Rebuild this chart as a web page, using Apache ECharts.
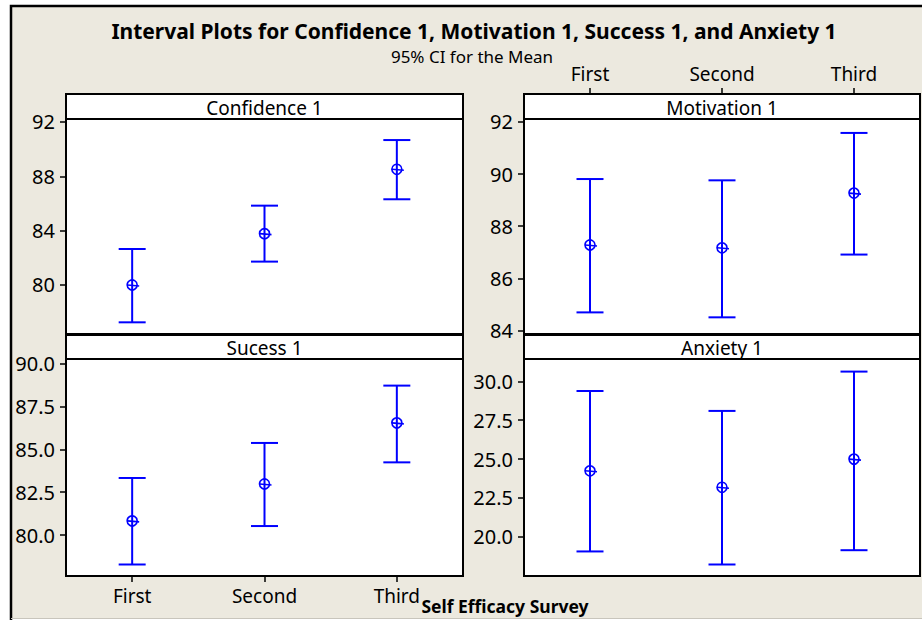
<!DOCTYPE html>
<html>
<head>
<meta charset="utf-8">
<script src="https://cdn.jsdelivr.net/npm/echarts@6/dist/echarts.min.js"></script>
<style>
html,body{margin:0;padding:0;background:#fff;}
#chart{width:922px;height:620px;}
</style>
</head>
<body>
<div id="chart"></div>
<script>
// ---- data ----
const categories = ['First', 'Second', 'Third'];

const panelTitles = ['Confidence 1', 'Motivation 1', 'Sucess 1', 'Anxiety 1'];

const confidenceMean  = [80.00, 83.78, 88.52];
const confidenceLower = [77.25, 81.72, 86.31];
const confidenceUpper = [82.65, 85.84, 90.67];

const motivationMean  = [87.28, 87.17, 89.27];
const motivationLower = [84.69, 84.50, 86.91];
const motivationUpper = [89.81, 89.76, 91.58];

const successMean  = [80.83, 82.98, 86.54];
const successLower = [78.29, 80.53, 84.24];
const successUpper = [83.33, 85.37, 88.71];

const anxietyMean  = [24.25, 23.19, 25.00];
const anxietyLower = [19.06, 18.22, 19.14];
const anxietyUpper = [29.38, 28.10, 30.63];

const confidenceTicks = [80, 84, 88, 92];
const motivationTicks = [84, 86, 88, 90, 92];
const successTicks = [80.0, 82.5, 85.0, 87.5, 90.0];
const anxietyTicks = [20.0, 22.5, 25.0, 27.5, 30.0];

const mainTitle = 'Interval Plots for Confidence 1, Motivation 1, Success 1, and Anxiety 1';
const subTitle = '95% CI for the Mean';
const xAxisTitle = 'Self Efficacy Survey';

// ---- layout ----
const FONT = 'Noto Sans';
const BLUE = '#0000FF';
const panels = [
  {left: 66,  top: 119, width: 397, height: 215, stripTop: 94,  mean: confidenceMean, lower: confidenceLower, upper: confidenceUpper, ticks: confidenceTicks, dec: 0, min: 76.39, max: 92.22},
  {left: 524, top: 119, width: 396, height: 215, stripTop: 94,  mean: motivationMean, lower: motivationLower, upper: motivationUpper, ticks: motivationTicks, dec: 0, min: 83.86, max: 92.115},
  {left: 66,  top: 359, width: 397, height: 217, stripTop: 335, mean: successMean, lower: successLower, upper: successUpper, ticks: successTicks, dec: 1, min: 77.62, max: 90.26},
  {left: 524, top: 359, width: 396, height: 217, stripTop: 335, mean: anxietyMean, lower: anxietyLower, upper: anxietyUpper, ticks: anxietyTicks, dec: 1, min: 17.48, max: 31.44}
];

function renderItem(params, api) {
  const x = api.value(0);
  const lo = api.coord([x, api.value(1)]);
  const mid = api.coord([x, api.value(2)]);
  const hi = api.coord([x, api.value(3)]);
  const cx = lo[0];
  const cap = 13.5, r = 5;
  const st = {stroke: BLUE, lineWidth: 2, fill: null};
  const st2 = {stroke: BLUE, lineWidth: 1.6, fill: null};
  return {
    type: 'group',
    children: [
      {type: 'line', shape: {x1: cx, y1: hi[1], x2: cx, y2: lo[1]}, style: st},
      {type: 'line', shape: {x1: cx - cap, y1: hi[1], x2: cx + cap, y2: hi[1]}, style: st},
      {type: 'line', shape: {x1: cx - cap, y1: lo[1], x2: cx + cap, y2: lo[1]}, style: st},
      {type: 'circle', shape: {cx: cx, cy: mid[1], r: r}, style: st2},
      {type: 'line', shape: {x1: cx - r, y1: mid[1], x2: cx + r + 2, y2: mid[1] + 1}, style: st2}
    ]
  };
}

const grid = [], xAxis = [], yAxis = [], series = [];
const graphic = [
  {type: 'rect', shape: {x: 11, y: 6, width: 920, height: 612}, style: {fill: '#ECE9DF', stroke: null}, z: -10},
  {type: 'polyline', shape: {points: [[11, 620], [11, 6], [922, 6]]}, style: {stroke: '#000', lineWidth: 2.5, fill: null}, z: -9},
  {type: 'line', shape: {x1: 11, y1: 618.5, x2: 922, y2: 618.5}, style: {stroke: '#C8C5BC', lineWidth: 1}, z: -9},
  {type: 'text', x: 474, y: 31, style: {text: mainTitle, font: 'bold 21px "' + FONT + '"', fill: '#000', align: 'center', verticalAlign: 'middle'}},
  {type: 'text', x: 472, y: 56, style: {text: subTitle, font: '17px "' + FONT + '"', fill: '#000', align: 'center', verticalAlign: 'middle'}},
  {type: 'text', x: 505, y: 606, style: {text: xAxisTitle, font: 'bold 17.5px "' + FONT + '"', fill: '#000', align: 'center', verticalAlign: 'middle'}}
];

panels.forEach((p, i) => {
  grid.push({left: p.left, top: p.top, width: p.width, height: p.height, show: true,
    backgroundColor: '#fff', borderColor: '#000', borderWidth: 2, containLabel: false});
  const showTop = (i === 1), showBottom = (i === 2);
  xAxis.push({
    type: 'category', gridIndex: i, data: categories, boundaryGap: true,
    position: showTop ? 'top' : 'bottom',
    offset: showTop ? (p.top - p.stripTop) : 0,
    axisLine: {show: false},
    axisTick: {show: showTop || showBottom, alignWithLabel: true, length: 6, lineStyle: {color: '#000', width: 1.5}},
    axisLabel: {show: showTop || showBottom, color: '#000', fontFamily: FONT, fontSize: 19, margin: showTop ? 11 : 10},
    splitLine: {show: false}
  });
  yAxis.push({
    type: 'value', gridIndex: i, min: p.min, max: p.max,
    axisLine: {show: false},
    axisTick: {show: true, length: 6, lineStyle: {color: '#000', width: 1.5}, customValues: p.ticks},
    axisLabel: {color: '#000', fontFamily: FONT, fontSize: 20, margin: 11, customValues: p.ticks,
      formatter: v => Number(v).toFixed(p.dec)},
    splitLine: {show: false}
  });
  series.push({
    type: 'custom', xAxisIndex: i, yAxisIndex: i, renderItem: renderItem,
    data: categories.map((c, k) => [k, p.lower[k], p.mean[k], p.upper[k]]),
    z: 5
  });
  graphic.push({type: 'rect', shape: {x: p.left, y: p.stripTop, width: p.width, height: p.top - p.stripTop},
    style: {fill: '#fff', stroke: '#000', lineWidth: 2}, z: 10});
  graphic.push({type: 'text', x: p.left + p.width / 2, y: (p.stripTop + p.top) / 2 + 1,
    style: {text: panelTitles[i], font: '19px "' + FONT + '"', fill: '#000', align: 'center', verticalAlign: 'middle'}, z: 11});
});

const chart = echarts.init(document.getElementById('chart'), null, {renderer: 'svg'});
chart.setOption({
  animation: false,
  backgroundColor: '#fff',
  grid: grid, xAxis: xAxis, yAxis: yAxis, series: series, graphic: graphic
});
</script>
</body>
</html>
